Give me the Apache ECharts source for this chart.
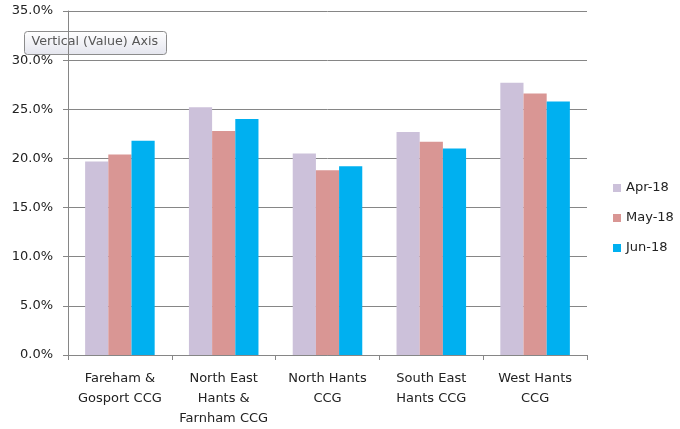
<!DOCTYPE html>
<html lang="en">
<head>
    <meta charset="UTF-8">
    <title>CCG chart</title>
    <script src="https://cdn.jsdelivr.net/npm/echarts@6/dist/echarts.min.js"></script>
</head>
<body style="margin:0;background:#fff">
    <div id="ec" style="width:680px;height:429px"></div>
</body>
<script>
    var categories = ['Fareham &\nGosport CCG', 'North East\nHants &\nFarnham CCG', 'North Hants\nCCG', 'South East\nHants CCG', 'West Hants\nCCG']
    var apr18 = [19.7, 25.2, 20.5, 22.7, 27.7]
    var may18 = [20.4, 22.8, 18.8, 21.7, 26.6]
    var jun18 = [21.8, 24.0, 19.2, 21.0, 25.8]
    var seriesNames = ['Apr-18', 'May-18', 'Jun-18']

    var font = 'DejaVu Sans'
    var lineCol = '#868686'
    var mychart = echarts.init(document.getElementById('ec'))
    var options = {
        animation: false,
        color: ['#CCC1DA', '#D99694', '#00B0F0'],
        textStyle: { fontFamily: font },
        grid: { left: 68, right: 93, top: 11, bottom: 74 },
        legend: {
            orient: 'vertical',
            left: 608,
            top: 176,
            itemWidth: 8,
            itemHeight: 8,
            itemGap: 16,
            icon: 'rect',
            textStyle: { fontSize: 13, color: '#222', fontFamily: font, lineHeight: 14 },
            data: seriesNames
        },
        xAxis: {
            type: 'category',
            data: categories,
            axisLine: { lineStyle: { color: lineCol } },
            axisTick: { show: true, length: 5, lineStyle: { color: lineCol } },
            axisLabel: { fontSize: 13, color: '#222', lineHeight: 20, margin: 14, interval: 0 }
        },
        yAxis: {
            type: 'value',
            min: 0,
            max: 35,
            interval: 5,
            axisLine: { show: true, lineStyle: { color: lineCol } },
            axisTick: { show: true, length: 5, lineStyle: { color: lineCol } },
            splitLine: { lineStyle: { color: lineCol } },
            axisLabel: {
                fontSize: 13, color: '#222', margin: 15,
                formatter: function (v) { return v.toFixed(1) + '%' }
            }
        },
        graphic: [{
            type: 'group',
            left: 24,
            top: 31,
            children: [{
                type: 'rect',
                shape: { x: 0, y: 0, width: 142, height: 23, r: 3 },
                style: {
                    fill: new echarts.graphic.LinearGradient(0, 0, 0, 1, [
                        { offset: 0, color: '#ffffff' },
                        { offset: 1, color: '#e4e5ee' }
                    ]),
                    stroke: '#8c8c8c',
                    lineWidth: 1
                }
            }, {
                type: 'text',
                left: 7,
                top: 4,
                style: { text: 'Vertical (Value) Axis', fontSize: 12.7, fill: '#575757', fontFamily: font }
            }],
            z: 100
        }],
        series: [
            { name: seriesNames[0], type: 'bar', data: apr18, barGap: '0%', barCategoryGap: '33%' },
            { name: seriesNames[1], type: 'bar', data: may18, barGap: '0%', barCategoryGap: '33%' },
            { name: seriesNames[2], type: 'bar', data: jun18, barGap: '0%', barCategoryGap: '33%' }
        ]
    }
    mychart.setOption(options)
</script>
</html>
